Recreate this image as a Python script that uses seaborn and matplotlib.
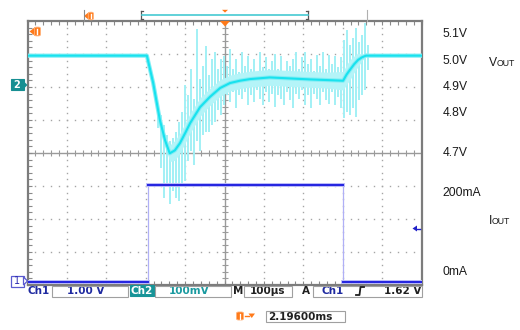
import numpy as np
import pandas as pd
import matplotlib
matplotlib.use("Agg")
import matplotlib.pyplot as plt
import seaborn as sns
from matplotlib.patches import Rectangle, Polygon, FancyBboxPatch
from matplotlib.lines import Line2D

# ---------------- data ----------------
# Channel 2 : output voltage (V) vs time (us), 100 mV/div, 100 us/div
t_vout = [0, 303, 319, 336, 349, 361, 374, 387, 400, 413, 438, 463, 489, 514,
          539, 565, 615, 666, 717, 760, 801, 810, 819, 829, 839, 849, 859, 1000]
vout = [5.000, 5.000, 4.917, 4.805, 4.744, 4.704, 4.713, 4.735, 4.765, 4.796,
        4.844, 4.875, 4.902, 4.917, 4.924, 4.929, 4.934, 4.931, 4.928, 4.926,
        4.924, 4.943, 4.958, 4.974, 4.987, 4.995, 5.000, 5.000]
# half width of the dense noise haze around the trace (V)
vout_noise = [0.003, 0.003, 0.004, 0.008, 0.015, 0.025, 0.03, 0.03, 0.03, 0.03,
              0.028, 0.026, 0.025, 0.024, 0.024, 0.024, 0.024, 0.024, 0.024, 0.024,
              0.028, 0.03, 0.03, 0.025, 0.02, 0.01, 0.003, 0.003]
# switching-noise spikes on Vout: time (us), top (V), bottom (V)
spike_t = [331, 339, 346, 354, 362, 369, 377, 384, 392, 400, 407, 415, 423, 430,
           438, 445, 453, 461, 468, 476, 484, 491, 499, 506, 514, 522, 529, 537,
           545, 552, 560, 567, 575, 583, 590, 598, 606, 613, 621, 628, 636, 644,
           651, 659, 667, 674, 682, 689, 697, 705, 712, 720, 728, 735, 743, 750,
           758, 766, 773, 781, 789, 796, 804, 811, 819, 827, 834, 842, 850, 857, 865]
spike_hi = [4.84, 4.82, 4.79, 4.76, 4.74, 4.75, 4.77, 4.80, 4.83, 4.91, 4.88, 4.96,
            4.87, 5.08, 4.93, 4.97, 5.03, 4.94, 4.99, 5.01, 4.96, 4.99, 5.00, 4.97,
            5.02, 4.96, 4.99, 4.95, 5.01, 4.97, 5.00, 4.96, 4.99, 4.95, 5.01, 4.965,
            4.995, 4.96, 4.985, 5.005, 4.96, 5.00, 4.95, 4.985, 4.97, 4.99, 5.01,
            4.96, 4.996, 5.011, 4.975, 4.99, 4.955, 5.002, 4.97, 5.011, 4.96,
            5.002, 4.975, 4.999, 4.965, 4.996, 5.047, 5.078, 5.032, 5.053, 5.084,
            5.041, 5.063, 5.099, 5.032]
spike_lo = [4.78, 4.66, 4.57, 4.61, 4.55, 4.59, 4.57, 4.56, 4.61, 4.62, 4.68, 4.71,
            4.67, 4.74, 4.71, 4.76, 4.77, 4.77, 4.79, 4.80, 4.835, 4.82, 4.85, 4.88,
            4.86, 4.89, 4.84, 4.88, 4.87, 4.89, 4.85, 4.88, 4.86, 4.895, 4.87, 4.85,
            4.89, 4.86, 4.885, 4.845, 4.88, 4.87, 4.85, 4.89, 4.866, 4.84, 4.885,
            4.869, 4.895, 4.85, 4.88, 4.84, 4.885, 4.869, 4.85, 4.89, 4.866, 4.853,
            4.89, 4.85, 4.875, 4.84, 4.811, 4.829, 4.82, 4.841, 4.814, 4.866,
            4.881, 4.896, 4.956]

# Channel 1 : load current step (mA)
t_iout = [0, 305, 305, 800, 800, 1000]
iout = [0, 0, 200, 200, 0, 0]

# text on the screen
volt_labels = ["5.1V", "5.0V", "4.9V", "4.8V", "4.7V"]
curr_labels = ["200mA", "0mA"]
status = {"ch1": "1.00 V", "ch2": "100mV", "time": "100\u00b5s",
          "trig": "1.62 V", "pos": "2.19600ms"}

# ---------------- figure ----------------
W, H = 520, 330
fig = plt.figure(figsize=(W / 100, H / 100), dpi=100, facecolor="white")


def fx(x):
    return x / W


def fy(y):
    return 1 - y / H


ax = fig.add_axes([fx(27.5), fy(285), 394 / W, 264 / H])
ax.set_facecolor("white")
V_LO, V_HI = 4.305, 5.105
ax.set_xlim(0, 1000)
ax.set_ylim(V_LO, V_HI)

frame_c = "#7c7c7c"
for s in ax.spines.values():
    s.set_color(frame_c)
    s.set_linewidth(1.6)
ax.set_xticks(np.arange(0, 1001, 100))
ax.set_xticks(np.arange(0, 1001, 20), minor=True)
ax.set_yticks(V_LO + 0.1 * np.arange(9))
ax.set_yticks(V_LO + 0.02 * np.arange(41), minor=True)
ax.tick_params(which="both", direction="in", top=True, right=True, length=3,
               width=0.8, color="#8a8a8a", labelbottom=False, labelleft=False)

# dotted graticule
gc = "#a5a5a5"
for i in range(1, 10):
    if i == 5:
        continue
    ax.plot([i / 10] * 41, np.linspace(0, 1, 41), ls="none", marker="s", ms=1.0,
            mew=0, color=gc, transform=ax.transAxes, zorder=1)
for j in range(1, 8):
    if j == 4:
        continue
    ax.plot(np.linspace(0, 1, 51), [j / 8] * 51, ls="none", marker="s", ms=1.0,
            mew=0, color=gc, transform=ax.transAxes, zorder=1)
# centre cross with ticks
cc = "#9a9a9a"
ax.plot([0.5, 0.5], [0, 1], color=cc, lw=1.0, transform=ax.transAxes, zorder=1)
ax.plot([0, 1], [0.5, 0.5], color=cc, lw=1.0, transform=ax.transAxes, zorder=1)
ax.plot(np.linspace(0, 1, 51), [0.5] * 51, ls="none", marker="|", ms=4, mew=0.8,
        color=cc, transform=ax.transAxes, zorder=1)
ax.plot([0.5] * 41, np.linspace(0, 1, 41), ls="none", marker="_", ms=4, mew=0.8,
        color=cc, transform=ax.transAxes, zorder=1)

# Vout trace with noise
vout_a = np.array(vout)
hw = np.array(vout_noise)
ax.vlines(spike_t, spike_lo, spike_hi, color="#a2f0f5", lw=1.4, zorder=3)
ax.fill_between(t_vout, vout_a - hw, vout_a + hw, color="#b4f4f8", lw=0, zorder=3)
sns.lineplot(x=t_vout, y=vout, ax=ax, estimator=None, sort=False, color="#84eef5",
             lw=3.0, legend=False, zorder=4)
sns.lineplot(x=t_vout, y=vout, ax=ax, estimator=None, sort=False, color="#18e2ee",
             lw=1.5, legend=False, zorder=5)
ax.set_xlabel("")
ax.set_ylabel("")

# Iout trace on its own scale
ax2 = ax.twinx()
ax2.set_ylim(-6.1, 538.1)
ax2.set_yticks([])
for s in ax2.spines.values():
    s.set_visible(False)
sns.lineplot(x=t_iout, y=iout, ax=ax2, estimator=None, sort=False, color="#b0b0f6",
             lw=0.9, legend=False, zorder=2)
seg_rows = []
seg = 0
for k in range(len(t_iout) - 1):
    if iout[k] == iout[k + 1]:
        seg_rows.append((seg, t_iout[k], iout[k]))
        seg_rows.append((seg, t_iout[k + 1], iout[k + 1]))
        seg += 1
segdf = pd.DataFrame(seg_rows, columns=["seg", "t", "i"])
sns.lineplot(data=segdf, x="t", y="i", units="seg", estimator=None, sort=False,
             ax=ax2, color="#b8b8f8", lw=2.8, legend=False, zorder=3)
sns.lineplot(data=segdf, x="t", y="i", units="seg", estimator=None, sort=False,
             ax=ax2, color="#2222e0", lw=1.4, legend=False, zorder=4)
ax2.set_xlabel("")
ax2.set_ylabel("")
ax2.set_xlim(0, 1000)

# ---------------- right-hand annotations ----------------
lab_font = dict(family="Liberation Sans", fontsize=8.7, color="#1a1a1a")
for txt, y in zip(volt_labels, [34.3, 61, 87, 113.3, 153]):
    fig.text(fx(442.5), fy(y), txt, ha="left", va="center", **lab_font)
for txt, y in zip(curr_labels, [192.7, 271.7]):
    fig.text(fx(442.5), fy(y), txt, ha="left", va="center", **lab_font)
fig.text(fx(489), fy(65.5), "V", ha="left", va="baseline", **lab_font)
fig.text(fx(496.5), fy(65.5), "OUT", ha="left", va="baseline", family="Liberation Sans",
         fontsize=6.3, color="#1a1a1a")
fig.text(fx(488.5), fy(224.5), "I", ha="left", va="baseline", **lab_font)
fig.text(fx(492), fy(224.5), "OUT", ha="left", va="baseline", family="Liberation Sans",
         fontsize=6.3, color="#1a1a1a")


# ---------------- scope decorations ----------------
def rect(x0, y0, x1, y1, fc="none", ec="#9a9a9a", lw=0.8, z=5):
    r = Rectangle((fx(x0), fy(y1)), (x1 - x0) / W, (y1 - y0) / H, transform=fig.transFigure,
                  facecolor=fc, edgecolor=ec, lw=lw, zorder=z)
    fig.add_artist(r)


def poly(pts, fc, ec="none", lw=0.0, z=6):
    p = Polygon([(fx(a), fy(b)) for a, b in pts], closed=True, transform=fig.transFigure,
                facecolor=fc, edgecolor=ec, lw=lw, zorder=z)
    fig.add_artist(p)


def line(xs, ys, c, lw=1.0, z=6):
    fig.add_artist(Line2D([fx(a) for a in xs], [fy(b) for b in ys], color=c, lw=lw,
                          transform=fig.transFigure, zorder=z))


orange = "#ff7a1a"
orange_l = "#ffb27a"


def trig_icon(x, y, s=1.0):
    # left pointing orange triangle + rounded block
    poly([(x, y), (x + 5 * s, y - 4 * s), (x + 5 * s, y + 4 * s)], orange)
    fig.add_artist(FancyBboxPatch((fx(x + 4.5 * s), fy(y + 4 * s)), 5.5 * s / W, 8 * s / H,
                                  boxstyle="round,pad=0.0,rounding_size=0.004",
                                  transform=fig.transFigure, facecolor=orange,
                                  edgecolor=orange_l, lw=0.6, zorder=6))
    line([x + 7.2 * s, x + 7.2 * s], [y - 2.6 * s, y + 2.6 * s], "white", lw=1.0, z=7)


trig_icon(29.5, 31.5, 1.1)
trig_icon(84, 16, 0.95)

# record-position lines above the graticule
line([83.5, 83.5], [10, 21], "#8a8a8a", lw=0.8)
line([366.5, 366.5], [10, 21], "#b0b0b0", lw=0.8)
# bracket with cyan bar
line([141, 141], [10.5, 19], "#555555", lw=0.9)
line([141, 143], [10.5, 10.5], "#555555", lw=0.9)
line([141, 143], [19, 19], "#555555", lw=0.9)
line([308, 308], [10.5, 19], "#555555", lw=0.9)
line([306, 308], [10.5, 10.5], "#555555", lw=0.9)
line([306, 308], [19, 19], "#555555", lw=0.9)
line([142, 307.5], [14.5, 14.5], "#45c9d2", lw=1.2)
poly([(222, 9.8), (228, 9.8), (225, 12.6)], orange)
poly([(220, 21), (230, 21), (225, 26.5)], orange)

# channel markers on the left
rect(10.5, 79.5, 23.5, 90.5, fc="#178f92", ec="#178f92", lw=0.8, z=6)
poly([(23.5, 81), (27.5, 85), (23.5, 89)], "#178f92")
fig.text(fx(17), fy(85.3), "2", ha="center", va="center", color="white",
         fontsize=7, fontweight="bold", family="DejaVu Sans", zorder=8)
rect(10.5, 275.5, 23.5, 286.5, fc="white", ec="#5a5ad0", lw=0.9, z=6)
poly([(23.5, 277), (27.5, 281), (23.5, 285)], "white", ec="#5a5ad0", lw=0.9)
fig.text(fx(17), fy(281.3), "1", ha="center", va="center", color="#2a2ab0",
         fontsize=7, family="DejaVu Sans", zorder=8)

# ch1 trigger level marker
poly([(412.5, 228.5), (417, 225.5), (417, 231.5)], "#2020c8")
line([416, 420], [228.5, 228.5], "#2020c8", lw=1.0)

# ---------------- status bar ----------------
sb = dict(family="DejaVu Sans", fontsize=7.5, fontweight="bold")
ys = 291
blue = "#1f2aa0"
teal = "#1a9aa0"
fig.text(fx(27), fy(ys), "Ch1", ha="left", va="center", color=blue, **sb)
rect(52, 285.5, 128, 297, ec="#a0a0a0")
fig.text(fx(86), fy(ys), status["ch1"], ha="center", va="center", color=blue, **sb)
rect(129.5, 284.5, 153.5, 296, fc="#179498", ec="#179498", z=5)
fig.text(fx(141.5), fy(290.5), "Ch2", ha="center", va="center", color="white", zorder=8, **sb)
rect(155, 285.5, 231, 297, ec="#a0a0a0")
fig.text(fx(189), fy(ys), status["ch2"], ha="center", va="center", color=teal, **sb)
fig.text(fx(232.5), fy(ys), "M", ha="left", va="center", color="#202020", **sb)
rect(244, 285.5, 292, 297, ec="#a0a0a0")
fig.text(fx(268), fy(ys), status["time"], ha="center", va="center", color="#202020", **sb)
fig.text(fx(306), fy(ys), "A", ha="center", va="center", color="#202020", **sb)
rect(312.5, 285.5, 422, 297, ec="#a0a0a0")
fig.text(fx(322), fy(ys), "Ch1", ha="left", va="center", color=blue, **sb)
line([356, 359.5, 360.5, 364], [295, 295, 287, 287], "#202020", lw=1.3)
fig.text(fx(421), fy(ys), status["trig"], ha="right", va="center", color="#202020", **sb)

# trigger position readout
fig.add_artist(FancyBboxPatch((fx(236.5), fy(320)), 7 / W, 8 / H,
                              boxstyle="round,pad=0.0,rounding_size=0.004",
                              transform=fig.transFigure, facecolor=orange,
                              edgecolor=orange_l, lw=0.6, zorder=6))
line([240, 240], [313.5, 318.5], "white", lw=0.9, z=7)
line([244.5, 249], [316, 316], orange, lw=1.0)
poly([(248.5, 313.5), (255, 313.5), (251.75, 318)], orange)
rect(266, 310.5, 345, 322, ec="#a0a0a0")
fig.text(fx(268.5), fy(316.5), status["pos"], ha="left", va="center", color="#202020", **sb)

fig.savefig("out.png", dpi=100, facecolor="white")
